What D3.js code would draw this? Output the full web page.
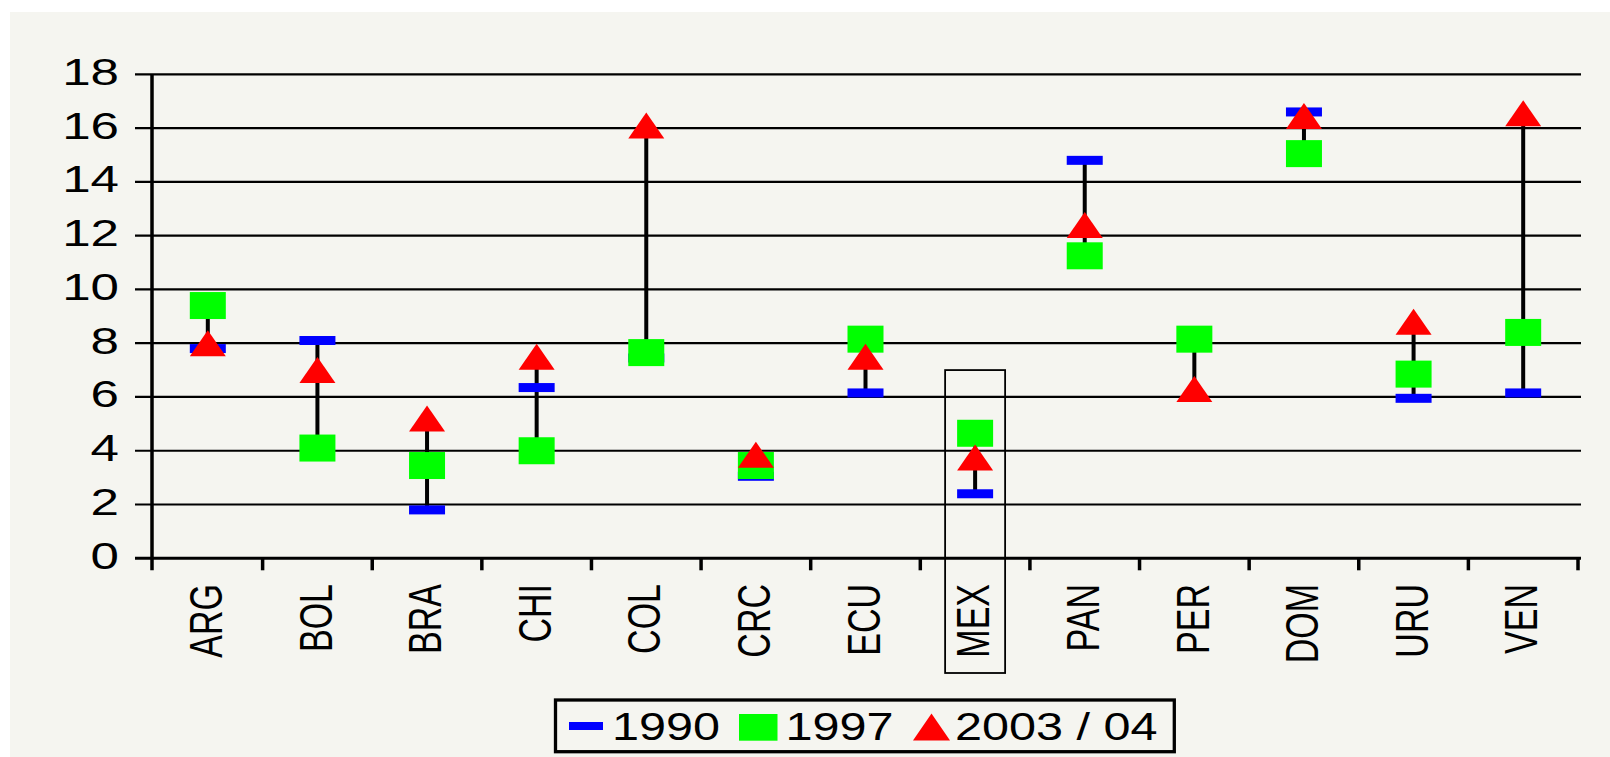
<!DOCTYPE html>
<html>
<head>
<meta charset="utf-8">
<script src="https://cdn.jsdelivr.net/npm/d3@7"></script>
<style>
  html, body { margin: 0; padding: 0; background: #ffffff; }
  svg { display: block; }
  text { font-family: "Liberation Sans", Arial, sans-serif; fill: #000; }
</style>
</head>
<body>
<svg id="chart" width="1610" height="757"></svg>
<script>
// ---- data ----
const categories = ["ARG","BOL","BRA","CHI","COL","CRC","ECU","MEX","PAN","PER","DOM","URU","VEN"];
const values1990 = [7.8, 8.1, 1.8, 6.35, 7.45, 3.05, 6.15, 2.4, 14.8, null, 16.6, 5.95, 6.15];
const values1997 = [9.4, 4.1, 3.45, 4.0, 7.65, 3.45, 8.15, 4.65, 11.25, 8.15, 15.05, 6.85, 8.4];
const values2003 = [8.0, 7.0, 5.2, 7.5, 16.1, 3.85, 7.5, 3.75, 12.4, 6.3, 16.45, 8.8, 16.55];
const yTicks = [0, 2, 4, 6, 8, 10, 12, 14, 16, 18];
const seriesNames = ["1990", "1997", "2003 / 04"];
const highlighted = "MEX";
const highlightTop = 7;

// ---- layout ----
const svg = d3.select("#chart");
const W = 1610, H = 757;
const axisX = 152, plotRight = 1581, gridLeft = 135;
const y0 = 558.3, yTop = 74.3;

svg.append("rect").attr("x", 10).attr("y", 12).attr("width", W - 10).attr("height", H - 12)
  .attr("fill", "#f5f5f0");

const x = d3.scaleBand().domain(categories).range([153, 1578]).paddingInner(0).paddingOuter(0);
const y = d3.scaleLinear().domain([0, 18]).range([y0, yTop]);
const cx = c => x(c) + x.bandwidth() / 2;

// gridlines
svg.append("g").selectAll("line").data(yTicks).join("line")
  .attr("x1", gridLeft).attr("x2", plotRight)
  .attr("y1", d => y(d)).attr("y2", d => y(d))
  .attr("stroke", "#000").attr("stroke-width", d => d === 0 ? 3 : 2.2);

// y axis line
svg.append("line").attr("x1", axisX).attr("x2", axisX).attr("y1", yTop).attr("y2", y0 + 12)
  .attr("stroke", "#000").attr("stroke-width", 3.5);

// x ticks at band boundaries
const bounds = categories.map(c => x(c)).concat([x(categories[categories.length - 1]) + x.bandwidth()]);
svg.append("g").selectAll("line").data(bounds.slice(1)).join("line")
  .attr("x1", d => d).attr("x2", d => d).attr("y1", y0).attr("y2", y0 + 12)
  .attr("stroke", "#000").attr("stroke-width", 3.5);

// y tick labels
svg.append("g").selectAll("text").data(yTicks).join("text")
  .attr("transform", d => `translate(119,${y(d) + 10.5}) scale(1.42,1)`)
  .attr("text-anchor", "end").attr("font-size", 36)
  .text(d => d);

// x labels (rotated)
svg.append("g").selectAll("text").data(categories).join("text")
  .attr("transform", d => `translate(${cx(d) - 2},584) scale(1.36,1) rotate(-90)`)
  .attr("text-anchor", "end").attr("dy", "0.35em").attr("font-size", 34)
  .text(d => d);

// highlight rectangle around MEX
svg.append("rect")
  .attr("x", cx(highlighted) - 30).attr("y", y(highlightTop))
  .attr("width", 60).attr("height", 673 - y(highlightTop))
  .attr("fill", "none").attr("stroke", "#000").attr("stroke-width", 1.8);

// high-low lines
const rows = categories.map((c, i) => ({c, a: values1990[i], b: values1997[i], t: values2003[i]}));
svg.append("g").selectAll("line").data(rows).join("line")
  .attr("x1", d => cx(d.c)).attr("x2", d => cx(d.c))
  .attr("y1", d => y(d3.max([d.a, d.b, d.t].filter(v => v != null))))
  .attr("y2", d => y(d3.min([d.a, d.b, d.t].filter(v => v != null))))
  .attr("stroke", "#000").attr("stroke-width", 4);

const mw = 36, mh = 27;
// 1990 dashes
svg.append("g").selectAll("rect").data(rows.filter(d => d.a != null)).join("rect")
  .attr("x", d => cx(d.c) - mw / 2).attr("y", d => y(d.a) - 4.5)
  .attr("width", mw).attr("height", 9).attr("fill", "#0000ff");
// 1997 squares
svg.append("g").selectAll("rect").data(rows.filter(d => d.b != null)).join("rect")
  .attr("x", d => cx(d.c) - mw / 2).attr("y", d => y(d.b) - mh / 2)
  .attr("width", mw).attr("height", mh).attr("fill", "#00ff00");
// 2003/04 triangles
const tri = (px, py, w, h) => `M${px - w / 2},${py + h / 2} L${px},${py - h / 2} L${px + w / 2},${py + h / 2} Z`;
svg.append("g").selectAll("path").data(rows.filter(d => d.t != null)).join("path")
  .attr("d", d => tri(cx(d.c), y(d.t), 36, 26)).attr("fill", "#ff0000");

// legend
const lg = svg.append("g");
lg.append("rect").attr("x", 555.5).attr("y", 700).attr("width", 618.8).attr("height", 51.7)
  .attr("fill", "none").attr("stroke", "#000").attr("stroke-width", 3.3);
lg.append("rect").attr("x", 569).attr("y", 722).attr("width", 34).attr("height", 8).attr("fill", "#0000ff");
lg.append("rect").attr("x", 739).attr("y", 714).attr("width", 38.5).attr("height", 26.7).attr("fill", "#00ff00");
lg.append("path").attr("d", tri(931.5, 727, 37, 27)).attr("fill", "#ff0000");
const legendTextX = [612, 785.5, 955];
lg.selectAll("text.lt").data(seriesNames).join("text").attr("class", "lt")
  .attr("transform", (d, i) => `translate(${legendTextX[i]},740) scale(1.23,1)`)
  .attr("font-size", 39.5)
  .text(d => d);
</script>
</body>
</html>
